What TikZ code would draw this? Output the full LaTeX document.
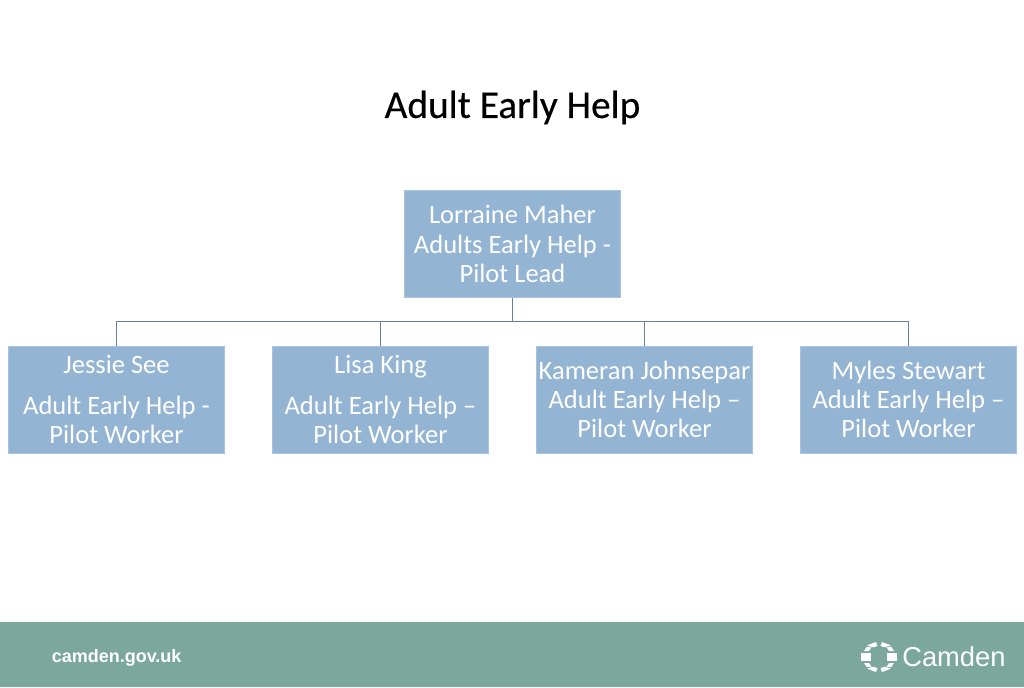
\documentclass[tikz,border=0pt]{standalone}
\usepackage{fontspec}
\setmainfont{Carlito}
\newfontfamily\titlefont[FakeBold=0.35]{Carlito}
\newfontfamily\footfont{Liberation Sans}
\definecolor{boxblue}{HTML}{94B4D3}
\definecolor{linkblue}{HTML}{6A8299}
\definecolor{barteal}{HTML}{7BA89B}
\tikzset{
  x=0.75pt,y=-0.75pt,
  person/.style={fill=boxblue,draw=boxblue!80!white,line width=0.5pt,minimum width=162pt,minimum height=80.5pt,inner sep=0pt,text=white,align=center,font=\fontsize{19.9}{22}\selectfont},
  link/.style={draw=linkblue,line width=1.2pt},
  logopart/.style={fill=white,draw=none},
  logocut/.style={draw=barteal,line width=0.5pt}
}
\begin{document}
\begin{tikzpicture}
\useasboundingbox (0,0) rectangle (1024,687);
\fill[white] (0,0) rectangle (1024,687);
\fill[barteal] (0,622) rectangle (1024,687);
\node[font=\titlefont\fontsize{29.5}{33}\selectfont,text=black] (title) at (512.5,107.5) {Adult Early Help};
\node[person] (lead) at (512.5,244) {Lorraine Maher\\Adults Early Help -\\Pilot Lead};
\node[person] (w1) at (116.5,399.5) {Jessie See\\[8.5pt]Adult Early Help -\\Pilot Worker};
\node[person] (w2) at (380.5,399.5) {Lisa King\\[8.5pt]Adult Early Help --\\Pilot Worker};
\node[person] (w3) at (644.5,399.5) {Kameran Johnsepar\\Adult Early Help --\\Pilot Worker};
\node[person] (w4) at (908.5,399.5) {Myles Stewart\\Adult Early Help --\\Pilot Worker};
\coordinate (bus) at (512.5,321.5);
\draw[link] (lead.south) -- (bus);
\foreach \w in {w1,w2,w3,w4}{\draw[link] (bus) -| (\w.north);}
\node[font=\footfont\bfseries\fontsize{13.5}{16}\selectfont,text=white,anchor=west,inner sep=0pt] (site) at (51.5,657.5) {camden.gov.uk};
\node[font=\footfont\fontsize{20.5}{23}\selectfont,text=white,anchor=west,inner sep=0pt] (brand) at (902,657) {Camden};
% logo ring
\begin{scope}[shift={(879,657)}]
\fill[logopart] (-15,-6) -- (-11,-12) -- (-3,-15) -- (-1.5,-11) -- (-8,-9) -- (-10,-6) -- cycle;
\fill[logopart] (15,-6) -- (11,-12) -- (3,-15) -- (1.5,-11) -- (8,-9) -- (10,-6) -- cycle;
\fill[logopart] (-15,6) -- (-11,12) -- (-3,15) -- (-1.5,11) -- (-8,9) -- (-10,6) -- cycle;
\fill[logopart] (15,6) -- (11,12) -- (3,15) -- (1.5,11) -- (8,9) -- (10,6) -- cycle;
\fill[logopart] (-18,-4) rectangle (-8,4);
\fill[logopart] (18,-4) rectangle (8,4);
\draw[logocut] (-13,-11) -- (-6,-9.5);
\draw[logocut] (13,-11) -- (6,-9.5);
\draw[logocut] (-13,11) -- (-6,9.5);
\draw[logocut] (13,11) -- (6,9.5);
\end{scope}
\end{tikzpicture}
\end{document}
